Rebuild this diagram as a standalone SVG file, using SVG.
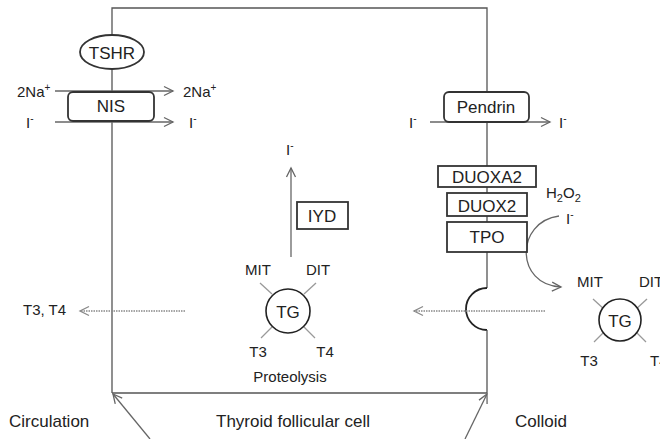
<svg xmlns="http://www.w3.org/2000/svg" width="660" height="439" viewBox="0 0 660 439">
<style>
text{font-family:"Liberation Sans",Arial,sans-serif;fill:#222}
.lg{font-size:17px}
.sm{font-size:15px}
.mid{text-anchor:middle}
.sup{font-size:10px}
.mem{stroke:#555;stroke-width:1.3;fill:none}
.box{stroke:#333;stroke-width:1.8;fill:#fff}
.arr{stroke:#666;stroke-width:1.3;fill:none}
.dot{stroke:#888;stroke-width:1.6;stroke-dasharray:1.5 1;fill:none}
.tick{stroke:#999;stroke-width:1.3}
.tg{stroke:#222;stroke-width:1.6;fill:#fff}
</style>
<defs>
<marker id="ah" markerWidth="12" markerHeight="12" refX="10" refY="6" orient="auto" markerUnits="userSpaceOnUse">
<path d="M1,1.5 L10,6 L1,10.5" fill="none" stroke="#666" stroke-width="1.3"/>
</marker>
<marker id="ahd" markerWidth="12" markerHeight="12" refX="10" refY="6" orient="auto" markerUnits="userSpaceOnUse">
<path d="M1,1.5 L10,6 L1,10.5" fill="none" stroke="#888" stroke-width="1.3"/>
</marker>
</defs>

<g id="membrane">
<path class="mem" d="M112,393 L112,8 L487,8 L487,288"/>
<path d="M487,288 A21,21 0 0 0 487,330" fill="none" stroke="#222" stroke-width="1.8"/>
<path class="mem" d="M487,330 L487,393 L112,393"/>
</g>

<g id="connectors">
<line class="arr" x1="55" y1="91" x2="173" y2="91" marker-end="url(#ah)"/>
<line class="arr" x1="55" y1="122" x2="173" y2="122" marker-end="url(#ah)"/>
<line class="arr" x1="430" y1="122" x2="550" y2="122" marker-end="url(#ah)"/>
<line class="arr" x1="291" y1="257" x2="291" y2="168" marker-end="url(#ah)"/>
<path class="arr" d="M559,216 C515,222 515,285 561,287" marker-end="url(#ah)"/>
<line class="dot" x1="185" y1="311" x2="80" y2="311" marker-end="url(#ahd)"/>
<line class="dot" x1="545" y1="311" x2="414" y2="311" marker-end="url(#ahd)"/>
<line class="arr" x1="150" y1="439" x2="113" y2="394" marker-end="url(#ah)"/>
<line class="arr" x1="465" y1="439" x2="487" y2="394" marker-end="url(#ah)"/>
</g>

<g id="tshr">
<ellipse cx="112" cy="52" rx="32" ry="17" class="box"/>
<text class="lg mid" x="112" y="59">TSHR</text>
</g>

<g id="nis">
<rect x="68" y="92" width="86" height="29" rx="5" class="box"/>
<text class="lg mid" x="111" y="112">NIS</text>
</g>
<g id="nis-labels">
<text class="sm" x="17" y="97">2Na<tspan class="sup" dy="-6">+</tspan></text>
<text class="sm" x="183" y="97">2Na<tspan class="sup" dy="-6">+</tspan></text>
<text class="sm" x="26" y="128">I<tspan class="sup" dy="-6">-</tspan></text>
<text class="sm" x="189" y="128">I<tspan class="sup" dy="-6">-</tspan></text>
</g>

<g id="pendrin">
<rect x="444" y="92" width="85" height="30" rx="5" class="box"/>
<text class="lg mid" x="486" y="113">Pendrin</text>
</g>
<g id="pendrin-labels">
<text class="sm" x="409" y="128">I<tspan class="sup" dy="-6">-</tspan></text>
<text class="sm" x="559" y="128">I<tspan class="sup" dy="-6">-</tspan></text>
</g>

<g id="duoxa2">
<rect x="438" y="166" width="98" height="21" class="box"/>
<text class="lg mid" x="487" y="183">DUOXA2</text>
</g>
<g id="duox2">
<rect x="447" y="193" width="80" height="23" class="box"/>
<text class="lg mid" x="487" y="212">DUOX2</text>
</g>
<g id="tpo">
<rect x="447" y="222" width="80" height="30" class="box"/>
<text class="lg mid" x="487" y="243">TPO</text>
</g>
<g id="h2o2">
<text class="sm" x="546" y="198">H<tspan font-size="11px" dy="4">2</tspan><tspan dy="-4">O</tspan><tspan font-size="11px" dy="4">2</tspan></text>
<text class="sm" x="566" y="224">I<tspan class="sup" dy="-6">-</tspan></text>
</g>

<g id="iyd">
<rect x="297" y="202" width="51" height="27" class="box" stroke-width="1.6"/>
<text class="lg mid" x="322" y="222">IYD</text>
<text class="sm" x="286" y="155">I<tspan class="sup" dy="-6">-</tspan></text>
</g>

<g id="tg-cell">
<line class="tick" x1="260" y1="283" x2="272" y2="294"/>
<line class="tick" x1="316" y1="283" x2="304" y2="294"/>
<line class="tick" x1="272" y1="327" x2="261" y2="338"/>
<line class="tick" x1="304" y1="327" x2="315" y2="338"/>
<circle cx="288" cy="311" r="22" class="tg"/>
<text class="lg mid" x="288" y="318">TG</text>
<text class="sm mid" x="258" y="275">MIT</text>
<text class="sm mid" x="318" y="275">DIT</text>
<text class="sm mid" x="258" y="357">T3</text>
<text class="sm mid" x="325" y="357">T4</text>
<text class="sm mid" x="290" y="382">Proteolysis</text>
</g>

<g id="tg-colloid">
<line class="tick" x1="593" y1="299" x2="605" y2="310"/>
<line class="tick" x1="647" y1="299" x2="635" y2="310"/>
<line class="tick" x1="605" y1="331" x2="594" y2="342"/>
<line class="tick" x1="635" y1="331" x2="646" y2="342"/>
<circle cx="620" cy="320" r="21" class="tg"/>
<text class="lg mid" x="620" y="327">TG</text>
<text class="sm mid" x="590" y="287">MIT</text>
<text class="sm" x="639" y="287">DIT</text>
<text class="sm mid" x="589" y="366">T3</text>
<text class="sm" x="650" y="366">T4</text>
</g>

<g id="t3t4">
<text class="sm" x="23" y="315">T3, T4</text>
</g>

<g id="regions">
<text class="lg" x="9" y="427">Circulation</text>
<text class="lg mid" x="293" y="427">Thyroid follicular cell</text>
<text class="lg" x="515" y="427">Colloid</text>
</g>
</svg>
